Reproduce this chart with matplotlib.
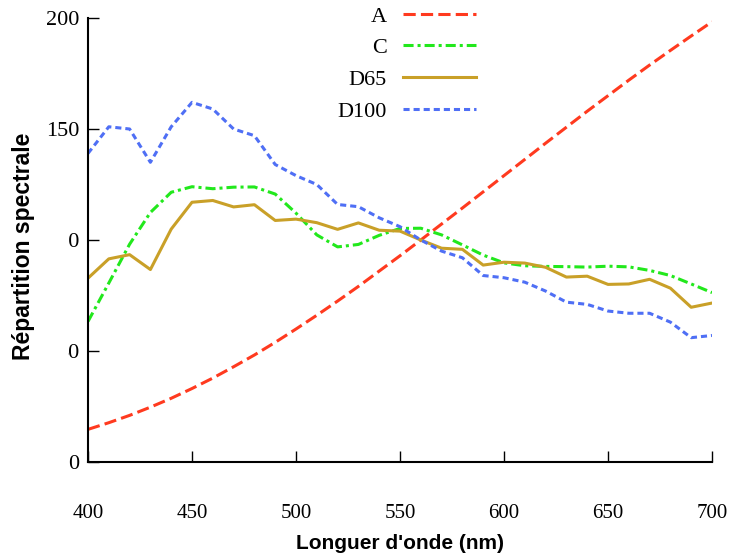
import matplotlib.pyplot as plt
from matplotlib.patches import Rectangle

# longueurs d'onde (nm)
wl = list(range(400, 701, 10))

# illuminants
ill_A = [14.7, 17.7, 21.0, 24.7, 28.7, 33.1, 37.8, 42.9, 48.2, 53.9, 59.9,
         66.1, 72.5, 79.1, 86.0, 92.9, 100.0, 107.2, 114.4, 121.7, 129.0,
         136.3, 143.6, 150.8, 158.0, 165.0, 172.0, 178.8, 185.4, 191.9, 198.3]
ill_C = [63.3, 80.6, 98.1, 112.4, 121.5, 124.0, 123.1, 123.8, 123.9, 120.7, 112.1,
         102.3, 96.9, 98.0, 102.1, 105.2, 105.3, 102.3, 97.8, 93.2, 89.7,
         88.4, 88.1, 88.0, 87.8, 88.2, 87.9, 86.3, 84.0, 80.2, 76.3]
ill_D65 = [82.8, 91.5, 93.4, 86.7, 104.9, 117.0, 117.8, 114.9, 115.9, 108.8, 109.4,
           107.8, 104.8, 107.7, 104.4, 104.0, 100.0, 96.3, 95.8, 88.7, 90.0,
           89.6, 87.7, 83.3, 83.7, 80.0, 80.2, 82.3, 78.3, 69.7, 71.6]
ill_D100 = [139, 151, 150, 135, 151, 162, 159, 150, 147, 134, 129,
            125, 116, 115, 110, 106, 100, 95, 92, 84, 83,
            81, 77, 72, 71, 68, 67, 67, 63, 56, 57]

fig = plt.figure(figsize=(7.36, 5.54), dpi=100)
ax = fig.add_axes([88/736, 92/554, 624/736, 444/554])

lw = 2.2
ax.plot(wl, ill_A, color='#ff3a1f', lw=lw, dashes=(4, 1.7), label='A')
ax.plot(wl, ill_C, color='#22e81c', lw=lw, dashes=(3.3, 1.3, 1, 1.3), label='C')
ax.plot(wl, ill_D65, color='#c9a028', lw=lw, label='D65')
ax.plot(wl, ill_D100, color='#4f6ff5', lw=lw, dashes=(2, 1.3), label='D100')

ax.set_xlim(400, 700)
ax.set_ylim(0, 200)
ax.set_xticks(range(400, 701, 50))
ax.set_yticks(range(0, 201, 50))
for s in ['top', 'right']:
    ax.spines[s].set_visible(False)
for s in ['left', 'bottom']:
    ax.spines[s].set_linewidth(1.5)
ax.tick_params(direction='in', length=8, width=1)
ax.tick_params(axis='x', pad=30)
ax.tick_params(axis='y', pad=6)
for t in ax.get_xticklabels():
    t.set_fontfamily('Liberation Serif'); t.set_fontsize(15)
for t in ax.get_yticklabels():
    t.set_fontfamily('Liberation Serif'); t.set_fontsize(16)

ax.set_xlabel("Longuer d'onde (nm)", fontfamily='Liberation Sans',
              fontweight='bold', fontsize=15, labelpad=8)

# le titre vertical recouvre une partie des graduations
fig.add_artist(Rectangle((0, 184/554), 67.5/736, 230/554, transform=fig.transFigure,
                         facecolor='white', edgecolor='none', zorder=2))
fig.text(24/736, 308/554, 'Répartition spectrale', rotation=90, ha='center', va='center',
         fontfamily='Liberation Sans', fontweight='bold', fontsize=16.5, zorder=3)

leg = ax.legend(loc='upper right', bbox_to_anchor=(476/736, 548/554),
                bbox_transform=fig.transFigure, frameon=False, markerfirst=False,
                prop={'family': 'Liberation Serif', 'size': 16},
                handlelength=3.3, handletextpad=0.7, labelspacing=0.5,
                borderpad=0, borderaxespad=0)

fig.savefig('out.png', dpi=100)
